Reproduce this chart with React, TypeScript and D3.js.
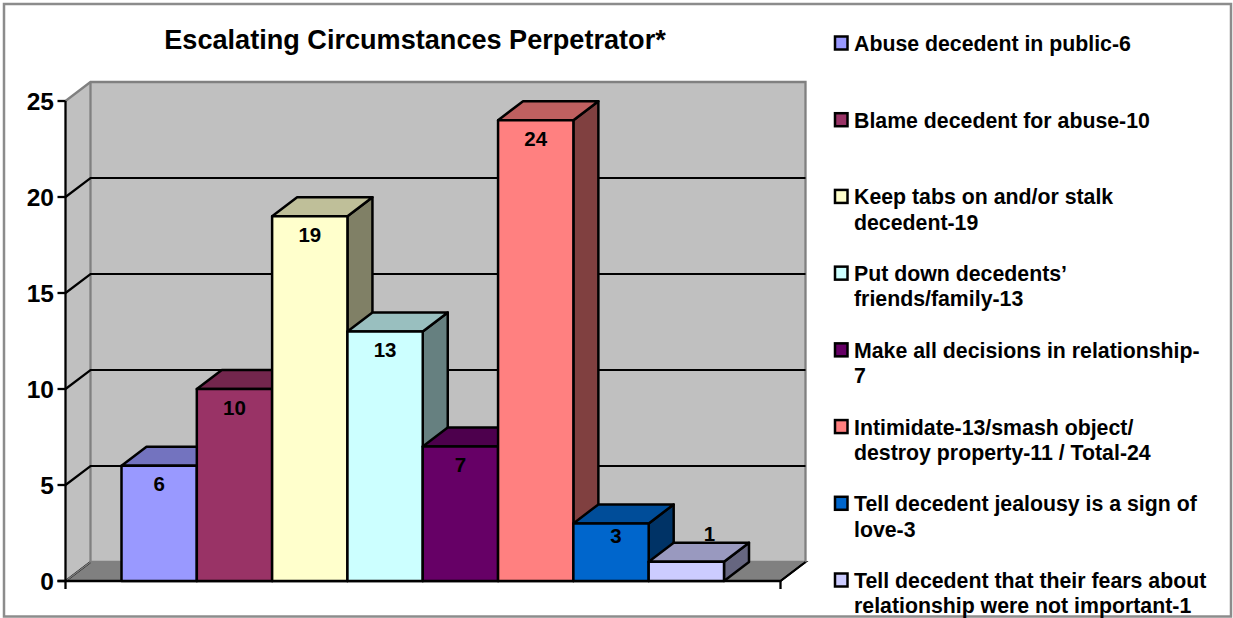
import React from "react";
import * as d3 from "d3";

const title = "Escalating Circumstances Perpetrator*";
const categories = ["Abuse", "Blame", "Keep tabs", "Put down", "Decisions", "Intimidate", "Jealousy", "Fears"];
const values = [6, 10, 19, 13, 7, 24, 3, 1];
const colors = ["#9999FF", "#993366", "#FFFFCC", "#CCFFFF", "#660066", "#FF8080", "#0066CC", "#CCCCFF"];
const yTicks = [0, 5, 10, 15, 20, 25];
const legendLabels = [
  ["Abuse decedent in public-6"],
  ["Blame decedent for abuse-10"],
  ["Keep tabs on and/or stalk", "decedent-19"],
  ["Put down decedents\u2019", "friends/family-13"],
  ["Make all decisions in relationship-", "7"],
  ["Intimidate-13/smash object/", "destroy property-11 / Total-24"],
  ["Tell decedent jealousy is a sign of", "love-3"],
  ["Tell decedent that their fears about", "relationship were not important-1"],
];

const FONT = "'Liberation Sans', Arial, sans-serif";
const dx = 25;
const dy = -19;
const axisX = 65.5;
const endX = 780.5;

const y = d3.scaleLinear().domain([0, 25]).range([581, 101]);
const x = d3.scaleBand().domain(categories).range([121.5, 724]).paddingInner(0).paddingOuter(0);
const legendY = d3.scaleLinear().domain([0, 7]).range([44, 581]);

const shade = (c: string, k: number) => {
  const r = d3.rgb(c);
  return d3.rgb(r.r * k, r.g * k, r.b * k).formatHex();
};
const pts = (p: number[][]) => p.map((q) => q.join(",")).join(" ");

export default function App() {
  const y0 = y(0);
  const y25 = y(25);
  const bw = x.bandwidth();
  return (
    <svg
      width={1233}
      height={618}
      viewBox="0 0 1233 618"
      style={{ position: "absolute", left: 0, top: 0, background: "#fff", fontFamily: FONT }}
    >
      <rect x={4} y={4} width={1227} height={612.5} fill="#fff" stroke="#8c8c8c" strokeWidth={2.5} />
      <text x={415} y={49} textAnchor="middle" fontSize={27.1} fontWeight={700} fill="#000">
        {title}
      </text>

      {/* walls */}
      <polygon points={pts([[axisX, y25], [axisX + dx, y25 + dy], [axisX + dx, y0 + dy], [axisX, y0]])} fill="#C0C0C0" />
      <rect x={axisX + dx} y={y25 + dy} width={endX - axisX} height={y0 - y25} fill="#C0C0C0" />
      <polygon points={pts([[axisX, y0], [axisX + dx, y0 + dy], [endX + dx, y0 + dy], [endX, y0]])} fill="#808080" stroke="#000" strokeWidth={2} />
      <polyline
        points={pts([[axisX, y25], [axisX + dx, y25 + dy], [endX + dx, y25 + dy], [endX + dx, y0 + dy]])}
        fill="none"
        stroke="#808080"
        strokeWidth={2.3}
      />
      <line x1={axisX + dx} x2={axisX + dx} y1={y25 + dy} y2={y0 + dy} stroke="#808080" strokeWidth={2.3} />
      <line x1={axisX} x2={axisX + dx} y1={y0} y2={y0 + dy} stroke="#808080" strokeWidth={1.5} />
      <line x1={axisX + dx} x2={endX + dx} y1={y0 + dy} y2={y0 + dy} stroke="#808080" strokeWidth={2.3} />

      {/* gridlines */}
      {yTicks.slice(1, -1).map((t) => (
        <polyline
          key={t}
          points={pts([[axisX, y(t)], [axisX + dx, y(t) + dy], [endX + dx, y(t) + dy]])}
          fill="none"
          stroke="#000"
          strokeWidth={2.2}
        />
      ))}

      {/* axes */}
      <line x1={axisX} x2={axisX} y1={y25} y2={y0 + 8} stroke="#000" strokeWidth={2.3} />
      <line x1={axisX - 8} x2={endX} y1={y0} y2={y0} stroke="#000" strokeWidth={2.3} />
      <line x1={endX} x2={endX} y1={y0} y2={y0 + 8} stroke="#000" strokeWidth={2.3} />
      <line x1={endX} x2={endX + dx} y1={y0} y2={y0 + dy} stroke="#000" strokeWidth={2} />
      {yTicks.map((t) => (
        <g key={t}>
          <line x1={axisX - 8} x2={axisX} y1={y(t)} y2={y(t)} stroke="#000" strokeWidth={2.3} />
          <text x={54} y={y(t) + 8.5} textAnchor="end" fontSize={24.5} fontWeight={700} fill="#000">
            {t}
          </text>
        </g>
      ))}

      {/* bars */}
      {categories.map((c, i) => {
        const l = x(c)!;
        const r = l + bw;
        const t = y(values[i]);
        return (
          <g key={c} stroke="#000" strokeWidth={2.5} strokeLinejoin="round">
            <polygon points={pts([[r, y0], [r + dx, y0 + dy], [r + dx, t + dy], [r, t]])} fill={shade(colors[i], 0.5)} />
            <polygon points={pts([[l, t], [l + dx, t + dy], [r + dx, t + dy], [r, t]])} fill={shade(colors[i], 0.75)} />
            <rect x={l} y={t} width={bw} height={y0 - t} fill={colors[i]} />
          </g>
        );
      })}

      {/* value labels */}
      {categories.map((c, i) => {
        const v = values[i];
        const cx = x(c)! + bw / 2 + (v === 1 ? 23 : v === 3 ? 5 : 0);
        const off = v === 1 ? -28 : v === 3 ? 12 : 18;
        return (
          <text key={c} x={cx} y={y(v) + off + 7.5} textAnchor="middle" fontSize={20.5} fontWeight={700} fill="#000">
            {v}
          </text>
        );
      })}

      {/* legend */}
      {legendLabels.map((lines, i) => (
        <g key={i}>
          <rect x={835} y={legendY(i) - 7.5} width={12.5} height={13} fill={colors[i]} stroke="#000" strokeWidth={2.5} />
          <text fontSize={21.3} fontWeight={700} fill="#000">
            {lines.map((s, j) => (
              <tspan key={j} x={854} y={legendY(i) + 7 + j * 25.3}>
                {s}
              </tspan>
            ))}
          </text>
        </g>
      ))}
    </svg>
  );
}
